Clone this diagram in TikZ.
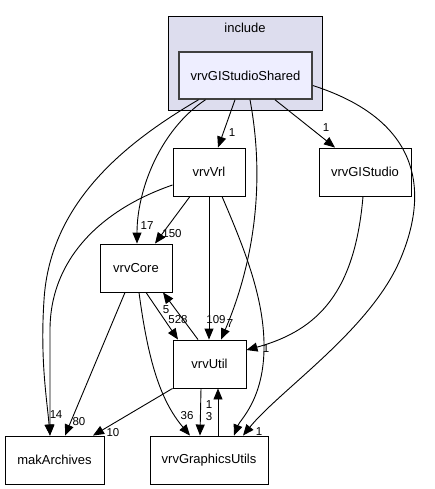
\documentclass[tikz,border=0pt]{standalone}
\usepackage{fontspec}
\setmainfont{Liberation Sans}
\usetikzlibrary{arrows.meta,calc}
\definecolor{clfill}{HTML}{DDDDEE}
\definecolor{shfill}{HTML}{EEEEFF}
\definecolor{shdraw}{HTML}{404040}
\begin{document}
\begin{tikzpicture}[x=1pt,y=-1pt,
  box/.style={draw=black, line width=0.9pt, fill=white, minimum height=48pt, inner sep=0pt, font=\fontsize{13}{15}\selectfont},
  sharedbox/.style={box, draw=shdraw, fill=shfill, line width=1.5pt, minimum height=47pt},
  clusterbox/.style={draw=black, fill=clfill, line width=0.9pt, inner sep=0pt},
  edge/.style={draw=black, line width=0.9pt, -{Triangle[length=11pt,width=9pt]}},
  lbl/.style={inner sep=0pt, font=\fontsize{11.5}{13}\selectfont}]
\useasboundingbox (0,0) rectangle (435,489);

% cluster
\node[clusterbox, minimum width=154pt, minimum height=94pt, anchor=north west] (cl) at (168,16) {};
\node[inner sep=0pt, font=\fontsize{13}{15}\selectfont] (cllabel) at (245,28) {include};

% nodes
\node[sharedbox, minimum width=133pt] (sh) at (245.5,75.5) {vrvGIStudioShared};
\node[box, minimum width=72pt] (vrl) at (209,172) {vrvVrl};
\node[box, minimum width=92pt] (gis) at (365,172) {vrvGIStudio};
\node[box, minimum width=72pt] (core) at (136,268) {vrvCore};
\node[box, minimum width=73pt] (util) at (209.5,364) {vrvUtil};
\node[box, minimum width=99pt] (mak) at (54.5,460) {makArchives};
\node[box, minimum width=118pt] (gu) at (209,460) {vrvGraphicsUtils};

% edges from vrvGIStudioShared
\draw[edge] ($(sh.south)+(-10.5,0)$) -- ($(vrl.north)+(9,0)$);
\node[lbl] (l1) at (232,133) {1};
\draw[edge] ($(sh.south)+(29.5,0)$) -- ($(gis.north)+(-30,0)$);
\node[lbl] (l2) at (326,128) {1};
\draw[edge] ($(sh.south)+(-40,0)$) .. controls (160,130) and (137,190) .. ($(core.north)+(1,0)$);
\node[lbl] (l3) at (147,226) {17};
\draw[edge] ($(sh.south)+(-47,0)$) .. controls (130,140) and (50,200) .. (44,300) .. controls (40,360) and (47,400) .. ($(mak.north)+(-4.5,0)$);
\node[lbl] (l4) at (53,415) {1};
\draw[edge] ($(sh.south)+(4.5,0)$) .. controls (265,180) and (255,260) .. ($(util.north)+(11.5,0)$);
\node[lbl] (l5) at (230,324) {7};
\draw[edge] ($(sh.east)+(0,10)$) .. controls (420,120) and (430,190) .. (400,260) .. controls (370,330) and (280,390) .. ($(gu.north)+(34,0)$);
\node[lbl] (l6) at (259,432) {1};

% edges from vrvVrl
\draw[edge] ($(vrl.west)+(0,13)$) .. controls (100,210) and (50,260) .. (50,330) .. controls (50,380) and (50,410) .. ($(mak.north)+(-4.5,0)$);
\node[lbl] (l7) at (59,415) {4};
\draw[edge] ($(vrl.south)+(-19,0)$) -- ($(core.north)+(19,0)$);
\node[lbl] (l8) at (172,234) {150};
\draw[edge] (vrl.south) -- (util.north -| vrl.south);
\node[lbl] (l9) at (216,320) {109};
\draw[edge] ($(vrl.south)+(13,0)$) .. controls (245,250) and (265,300) .. (264,350) .. controls (263,400) and (240,420) .. ($(gu.north)+(25,0)$);

% vrvGIStudio -> vrvUtil
\draw[edge] ($(gis.south)+(-2,0)$) .. controls (355,290) and (320,330) .. ($(util.east)+(0,-14)$);
\node[lbl] (l10) at (266,349) {1};

% vrvCore <-> vrvUtil
\draw[edge] ($(core.south)+(10,0)$) -- ($(util.north)+(-31.5,0)$);
\node[lbl] (l11) at (178,320) {528};
\draw[edge] ($(util.north)+(-11.5,0)$) -- ($(core.south)+(27,0)$);
\node[lbl] (l12) at (166,310) {5};

% vrvCore -> others
\draw[edge] ($(core.south)+(-11,0)$) -- ($(mak.north)+(10.5,0)$);
\node[lbl] (l13) at (79,422) {80};
\draw[edge] ($(core.south)+(3,0)$) .. controls (148,360) and (160,400) .. ($(gu.north)+(-19,0)$);
\node[lbl] (l14) at (187,416) {36};

% vrvUtil -> others
\draw[edge] (util.south west) -- ($(mak.north)+(38.5,0)$);
\node[lbl] (l15) at (113,433) {10};
\draw[edge] ($(util.south)+(-8.5,0)$) -- ($(gu.north)+(-9,0)$);
\node[lbl] (l16) at (209,417) {3};
\draw[edge] ($(gu.north)+(9,0)$) -- ($(util.south)+(8.5,0)$);
\node[lbl] (l17) at (209,405) {1};
\end{tikzpicture}
\end{document}
